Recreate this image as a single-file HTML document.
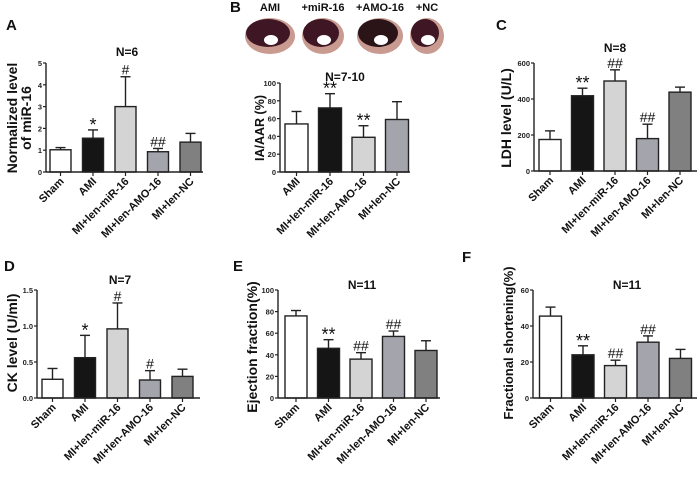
<!DOCTYPE html>
<html><head><meta charset="utf-8"><style>
html,body{margin:0;padding:0;background:#fff;}
svg{display:block;font-family:"Liberation Sans",Arial,sans-serif;font-weight:bold;}
</style></head><body>
<svg id="fig" width="700" height="499" viewBox="0 0 700 499"></svg>
<script>
// ---- data ----
const catsFull = ["Sham","AMI","MI+len-miR-16","MI+len-AMO-16","MI+len-NC"];
const catsB = ["AMI","MI+len-miR-16","MI+len-AMO-16","MI+len-NC"];
const valA = [1.02,1.55,3.0,0.93,1.37];
const errA = [0.10,0.38,1.37,0.15,0.40];
const sigA = ["","*","#","##",""];
const valB = [54,72,39,59];
const errB = [14,16,13,20];
const sigB = ["","**","**",""];
const valC = [175,418,500,180,438];
const errC = [48,42,62,80,28];
const sigC = ["","**","##","##",""];
const valD = [0.26,0.56,0.96,0.25,0.30];
const errD = [0.15,0.31,0.36,0.13,0.10];
const sigD = ["","*","#","#",""];
const valE = [76,46,36,57,44];
const errE = [5,8,6,5,9];
const sigE = ["","**","##","##",""];
const valF = [45.5,24,18,31,22];
const errF = [5,5,3,3.5,5];
const sigF = ["","**","##","##",""];
const ticksA = ["0","1","2","3","4","5"];
const ticksB = ["0","20","40","60","80","100"];
const ticksC = ["0","200","400","600"];
const ticksD = ["0.0","0.5","1.0","1.5"];
const ticksE = ["0","20","40","60","80","100"];
const ticksF = ["0","20","40","60"];

const NS="http://www.w3.org/2000/svg";
const svg=document.getElementById('fig');
function mk(tag,attrs,parent){const e=document.createElementNS(NS,tag);for(const k in attrs)e.setAttribute(k,attrs[k]);(parent||svg).appendChild(e);return e;}
function txt(s,attrs,parent){const e=mk('text',attrs,parent);e.textContent=s;return e;}

const fills5=["#ffffff","#151515","#d4d4d4","#a4a4ac","#808080"];
const fills4=["#ffffff","#151515","#d4d4d4","#a4a4ac"];

function panel(p){
  const g=mk('g',{});
  
  
  const ymax=parseFloat(p.ticks[p.ticks.length-1]);
  const y=v=>p.y0-(v/ymax)*(p.y0-p.yTop);
  const n=p.cats.length;
  const x=i=>p.xFirst+i*p.step;
  const L=txt(p.id,{x:p.lx,y:p.ly,'font-size':15,fill:'#111'},g);
  
  
  const N=txt(p.nlab,{x:p.nx,y:p.ny,'font-size':12,'text-anchor':'middle',fill:'#111'},g);
  
  
  const tg=mk('g',{transform:`translate(${p.tx},${p.ty}) rotate(-90)`},g);
  
  
  p.title.forEach((t,k)=>txt(t,{x:0,y:k*14,'font-size':p.tfs||14,'text-anchor':'middle',fill:'#111'},tg));
  for(let i=0;i<n;i++){
    const cx=x(i),w=p.bw;
    const top=y(p.vals[i]),et=y(p.vals[i]+p.errs[i]);
    const eb=mk('line',{x1:cx,x2:cx,y1:top,y2:et,stroke:'#222','stroke-width':1.4},g);
    
    
    mk('line',{x1:cx-5,x2:cx+5,y1:et,y2:et,stroke:'#222','stroke-width':1.4},g);
    const r=mk('rect',{x:cx-w/2,y:top,width:w,height:p.y0-top,fill:p.fills[i],stroke:'#222','stroke-width':1.4},g);
    
    
    if(p.sig[i]){
      const star=p.sig[i].startsWith('*');
      const s=txt(p.sig[i],{x:cx,y:et-2+(star?3:0),'font-size':star?18:14,'font-weight':'normal','text-anchor':'middle',fill:'#111'},g);
      
      
    }
    mk('line',{x1:cx,x2:cx,y1:p.y0,y2:p.y0+4,stroke:'#222','stroke-width':1.2},g);
    const xl=txt(p.cats[i],{x:0,y:0,'font-size':11,'text-anchor':'end',fill:'#111',transform:`translate(${cx+4},${p.y0+10}) rotate(-45)`},g);
    
    
  }
  const ya=mk('line',{x1:p.ax,x2:p.ax,y1:p.yTop,y2:p.y0,stroke:'#222','stroke-width':1.4},g);
  
  
  const xa=mk('line',{x1:p.ax,x2:p.axEnd,y1:p.y0,y2:p.y0,stroke:'#222','stroke-width':1.4},g);
  
  
  p.ticks.forEach(t=>{
    const yy=y(parseFloat(t));
    mk('line',{x1:p.ax-3,x2:p.ax,y1:yy,y2:yy,stroke:'#222','stroke-width':1.2},g);
    const tl=txt(t,{x:p.ax-4,y:yy+3,'font-size':7.5,'text-anchor':'end',fill:'#222'},g);
    
    
  });
}

panel({id:'A',cats:catsFull,vals:valA,errs:errA,sig:sigA,ticks:ticksA,fills:fills5,ax:46,axEnd:203,y0:172,yTop:63,xFirst:60.5,step:32.5,bw:21,lx:6,ly:30,nlab:'N=6',nx:127,ny:56,title:['Normalized level','of miR-16'],tx:17,ty:118});
panel({id:'B',cats:catsB,vals:valB,errs:errB,sig:sigB,ticks:ticksB,fills:fills4,ax:280,axEnd:410,y0:172,yTop:83,xFirst:296.5,step:33.5,bw:23,lx:230,ly:12,nlab:'N=7-10',nx:345,ny:81,title:['IA/AAR (%)'],tx:264,ty:128,tfs:12.5});
panel({id:'C',cats:catsFull,vals:valC,errs:errC,sig:sigC,ticks:ticksC,fills:fills5,ax:534,axEnd:697,y0:171,yTop:63,xFirst:550,step:32.5,bw:22,lx:496,ly:30,nlab:'N=8',nx:615,ny:52,title:['LDH level (U/L)'],tx:511,ty:118});
panel({id:'D',cats:catsFull,vals:valD,errs:errD,sig:sigD,ticks:ticksD,fills:fills5,ax:37,axEnd:200,y0:398,yTop:290,xFirst:52.5,step:32.5,bw:21,lx:4,ly:271,nlab:'N=7',nx:120,ny:284,title:['CK level (U/ml)'],tx:17,ty:343});
panel({id:'E',cats:catsFull,vals:valE,errs:errE,sig:sigE,ticks:ticksE,fills:fills5,ax:278,axEnd:440,y0:398,yTop:290,xFirst:296,step:32.5,bw:22,lx:233,ly:271,nlab:'N=11',nx:362,ny:289,title:['Ejection fraction(%)'],tx:257,ty:347});
panel({id:'F',cats:catsFull,vals:valF,errs:errF,sig:sigF,ticks:ticksF,fills:fills5,ax:533,axEnd:697,y0:398,yTop:290,xFirst:550.5,step:32.5,bw:22,lx:462,ly:262,nlab:'N=11',nx:627,ny:289,title:['Fractional shortening(%)'],tx:513,ty:343,tfs:13});

const heartLabels=["AMI","+miR-16","+AMO-16","+NC"];
const heartCx=[270,323,380,427],heartRx=[25,21,23,17];
heartLabels.forEach((h,i)=>{
  const t=txt(h,{x:heartCx[i],y:11,'font-size':11,'text-anchor':'middle',fill:'#111'});
  
  
  const g=mk('g',{});
  
  
  mk('ellipse',{cx:heartCx[i],cy:36,rx:heartRx[i],ry:18,fill:'#c89a90'},g);
  mk('ellipse',{cx:heartCx[i]-2,cy:33,rx:heartRx[i]-3,ry:14,fill:i==2?'#2a1418':'#3e1624'},g);
  mk('ellipse',{cx:heartCx[i]+1,cy:40,rx:7,ry:5,fill:'#ffffff'},g);
});
</script>
</body></html>
